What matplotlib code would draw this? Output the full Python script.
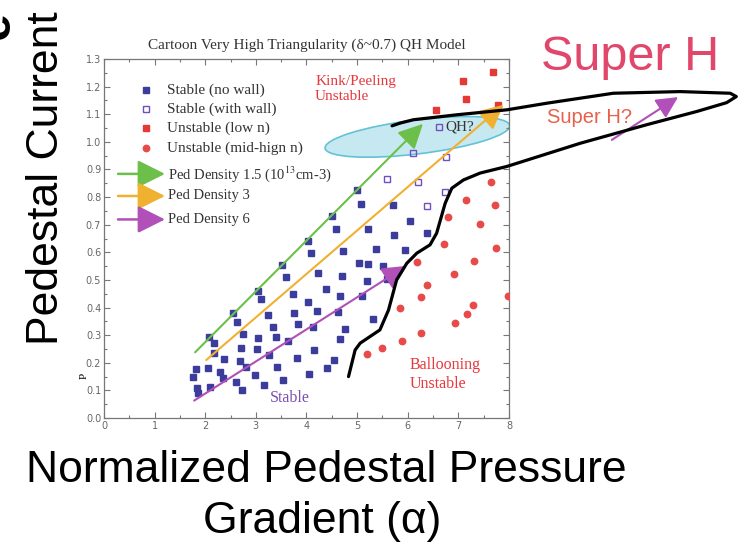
import matplotlib
matplotlib.use('Agg')
import matplotlib.pyplot as plt
import matplotlib.transforms as mtransforms
from matplotlib.patches import Ellipse
from matplotlib.ticker import MultipleLocator

plt.rcParams['mathtext.fontset'] = 'stix'
serif = 'Liberation Serif'
sans = 'Liberation Sans'

# ---- data ----
# stable, no wall (filled blue squares)
stable_x = [1.75, 1.82, 1.83, 1.85, 2.06, 2.09, 2.07, 2.17, 2.18, 2.29, 2.38, 2.36,
            2.54, 2.62, 2.61, 2.69, 2.70, 2.75, 2.72, 2.80, 2.98, 3.02, 3.04, 3.04,
            3.11, 3.16, 3.23, 3.25, 3.33, 3.39, 3.41, 3.53, 3.60, 3.64, 3.73, 3.76,
            3.81, 3.84, 4.02, 4.04, 4.12, 4.14, 4.20, 4.22, 4.38, 4.41, 4.54, 4.66,
            4.63, 4.66, 4.71, 4.76, 5.09, 5.19, 5.32, 5.59, 3.52, 4.02, 4.08, 4.51,
            4.58, 4.72, 4.99, 5.08, 5.22, 5.22, 5.37, 5.71, 6.05, 5.72, 6.39, 5.94,
            5.04, 5.52]
stable_y = [0.147, 0.177, 0.108, 0.089, 0.180, 0.111, 0.295, 0.273, 0.237, 0.166, 0.215, 0.144,
            0.379, 0.349, 0.129, 0.207, 0.252, 0.303, 0.101, 0.184, 0.156, 0.249, 0.290, 0.461,
            0.430, 0.120, 0.374, 0.228, 0.331, 0.292, 0.186, 0.138, 0.512, 0.280, 0.448, 0.379,
            0.216, 0.340, 0.419, 0.158, 0.328, 0.246, 0.389, 0.524, 0.466, 0.180, 0.210, 0.441,
            0.383, 0.285, 0.513, 0.321, 0.443, 0.496, 0.358, 0.504, 0.554, 0.642, 0.597, 0.733,
            0.685, 0.605, 0.826, 0.775, 0.685, 0.559, 0.612, 0.770, 0.714, 0.662, 0.669, 0.609,
            0.560, 0.552]

# stable with wall (open squares)
wall_x = [5.59, 6.21, 6.74, 6.39, 6.03, 6.10, 6.62, 6.76]
wall_y = [0.866, 0.854, 0.820, 0.767, 1.017, 0.959, 1.053, 0.945]

# unstable, low n (red squares)
lown_x = [7.68, 7.09, 7.15, 6.56, 7.79]
lown_y = [1.253, 1.219, 1.154, 1.116, 1.135]

# unstable, mid-high n (red dots)
midn_x = [7.65, 7.16, 7.72, 6.80, 7.42, 6.71, 7.74, 6.19, 7.30, 6.92, 6.38,
          6.26, 7.99, 5.85, 7.29, 7.18, 6.94, 6.26, 5.88, 5.49, 5.20]
midn_y = [0.856, 0.790, 0.772, 0.729, 0.703, 0.630, 0.617, 0.566, 0.569, 0.522, 0.482,
          0.437, 0.440, 0.397, 0.408, 0.377, 0.343, 0.309, 0.280, 0.255, 0.231]

# stability boundary (hand drawn, loops out to the "Super H" region)
bound_x = [4.83, 4.96, 5.06, 5.45, 5.62, 5.78, 5.98, 6.18, 6.44, 6.57, 6.74, 6.87,
           7.10, 7.43, 7.96, 9.41, 10.72, 11.71, 12.30, 12.49, 12.37, 11.38, 10.06,
           8.75, 7.96, 6.97, 6.11, 5.85, 5.69]
bound_y = [0.150, 0.246, 0.271, 0.319, 0.391, 0.500, 0.560, 0.597, 0.627, 0.669, 0.778, 0.832,
           0.862, 0.887, 0.911, 0.995, 1.062, 1.110, 1.142, 1.164, 1.176, 1.182, 1.176,
           1.140, 1.116, 1.098, 1.080, 1.068, 1.058]

# pedestal density trajectories
density_labels = ['Ped Density 1.5 (10$^{13}$cm-3)', 'Ped Density 3', 'Ped Density 6']
density_colors = ['#6cc04a', '#f0b030', '#b050b8']
traj_x0 = [1.80, 2.02, 1.78]
traj_y0 = [0.238, 0.210, 0.063]
traj_x1 = [6.30, 7.89, 5.98]
traj_y1 = [1.065, 1.134, 0.551]

# "Super H?" arrow
superh_x = [10.03, 11.34]
superh_y = [1.007, 1.162]

fig = plt.figure(figsize=(7.44, 5.48), dpi=100)
ax = fig.add_axes([104 / 744, 1 - 418 / 548, 405 / 744, 359 / 548])
ax.set_xlim(0, 8)
ax.set_ylim(0, 1.3)

# QH region blob (drawn in pixels, centred on a data point)
blob = Ellipse((0, 0), 186, 34, angle=7,
               transform=mtransforms.ScaledTranslation(6.19, 1.018, ax.transData),
               facecolor='#c6e8f0', edgecolor='#62c3d6', lw=1.2, zorder=1.5)
ax.add_patch(blob)

ax.plot(stable_x, stable_y, 's', ms=4.4, color='#3c3c9c', mec='#3c3c9c', zorder=3)
ax.plot(wall_x, wall_y, 's', ms=4.4, mfc='none', mec='#7050c0', mew=1.0, zorder=3)
ax.plot(lown_x, lown_y, 's', ms=5, color='#e53935', zorder=3)
ax.plot(midn_x, midn_y, 'o', ms=4.6, color='#e84a4a', zorder=3)

for i in range(3):
    ax.annotate('', xy=(traj_x1[i], traj_y1[i]), xytext=(traj_x0[i], traj_y0[i]),
                arrowprops=dict(arrowstyle='-|>,head_length=0.6,head_width=0.3',
                                color=density_colors[i], lw=1.5, mutation_scale=25,
                                shrinkA=0, shrinkB=0), zorder=4)

ax.plot(bound_x, bound_y, color='black', lw=2.3, clip_on=False, zorder=5,
        solid_capstyle='round', solid_joinstyle='round')

ax.annotate('', xy=(superh_x[1], superh_y[1]), xytext=(superh_x[0], superh_y[0]),
            arrowprops=dict(arrowstyle='-|>,head_length=0.6,head_width=0.3',
                            color='#b050b8', lw=1.5, mutation_scale=22,
                            shrinkA=0, shrinkB=0), annotation_clip=False, zorder=4)

# legend (markers)
leg_y = [1.188, 1.118, 1.050, 0.978]
leg_labels = ['Stable (no wall)', 'Stable (with wall)', 'Unstable (low n)', 'Unstable (mid-hign n)']
ax.plot(0.82, leg_y[0], 's', ms=4.4, color='#3c3c9c', zorder=3)
ax.plot(0.82, leg_y[1], 's', ms=4.4, mfc='none', mec='#7050c0', mew=1.0, zorder=3)
ax.plot(0.82, leg_y[2], 's', ms=5, color='#e53935', zorder=3)
ax.plot(0.82, leg_y[3], 'o', ms=4.6, color='#e84a4a', zorder=3)
for y, lab in zip(leg_y, leg_labels):
    ax.text(1.24, y, lab, family=serif, fontsize=11, color='#333333', va='center')

# legend (density arrows)
arr_leg_y = [0.884, 0.804, 0.719]
for i in range(3):
    ax.annotate('', xy=(1.205, arr_leg_y[i]), xytext=(0.277, arr_leg_y[i]),
                arrowprops=dict(arrowstyle='-|>,head_length=0.7,head_width=0.35',
                                color=density_colors[i], lw=1.8, mutation_scale=24,
                                shrinkA=0, shrinkB=0))
    ax.text(1.27, arr_leg_y[i], density_labels[i], family=serif, fontsize=10.5,
            color='#333333', va='center')

# region labels
ax.text(4.17, 1.192, 'Kink/Peeling\nUnstable', family=serif, fontsize=11, color='#e8383c',
        va='center', linespacing=1.25)
ax.text(6.74, 1.054, 'QH?', family=serif, fontsize=11, color='#333333', va='center', zorder=6)
ax.text(3.28, 0.072, 'Stable', family=serif, fontsize=11.5, color='#7b50b0', va='center')
ax.text(6.03, 0.158, 'Ballooning\nUnstable', family=serif, fontsize=11.5, color='#e8383c',
        va='center', linespacing=1.2)
ax.text(8.75, 1.087, 'Super H?', family=sans, fontsize=14.5, color='#e8604c', va='center')

ax.set_title('Cartoon Very High Triangularity (δ~0.7) QH Model', family=serif,
             fontsize=11, color='#333333', pad=7)

# axes styling
ax.xaxis.set_major_locator(MultipleLocator(1))
ax.xaxis.set_minor_locator(MultipleLocator(0.5))
ax.yaxis.set_major_locator(MultipleLocator(0.1))
ax.yaxis.set_minor_locator(MultipleLocator(0.05))
ax.yaxis.set_major_formatter(matplotlib.ticker.FormatStrFormatter('%.1f'))
ax.tick_params(which='both', direction='in', top=True, right=True, color='#777777',
               labelsize=7, labelcolor='#666666', width=0.8)
ax.tick_params(which='major', length=4, pad=2)
ax.tick_params(which='minor', length=2)
for s in ax.spines.values():
    s.set_color('#777777')
    s.set_linewidth(0.9)

# big slide annotations
fig.text(630 / 744, 1 - 57 / 548, 'Super H', family=sans, fontsize=35, color='#e0476a',
         ha='center', va='center')
fig.text(47 / 744, 1 - 178 / 548, 'Pedestal Current', family=sans, fontsize=32,
         rotation=90, ha='center', va='center')
fig.text(326 / 744, 1 - 470 / 548, 'Normalized Pedestal Pressure', family=sans, fontsize=32,
         ha='center', va='center')
fig.text(322 / 744, 1 - 522 / 548, 'Gradient (α)', family=sans, fontsize=32,
         ha='center', va='center')
fig.text(-4 / 744, 1 - 25 / 548, 'e', family=sans, fontsize=36, weight='bold',
         rotation=90, ha='center', va='center')
fig.text(84 / 744, 1 - 376 / 548, 'P', family=serif, fontsize=8, rotation=90,
         ha='center', va='center')

fig.savefig('out.png', dpi=100)
